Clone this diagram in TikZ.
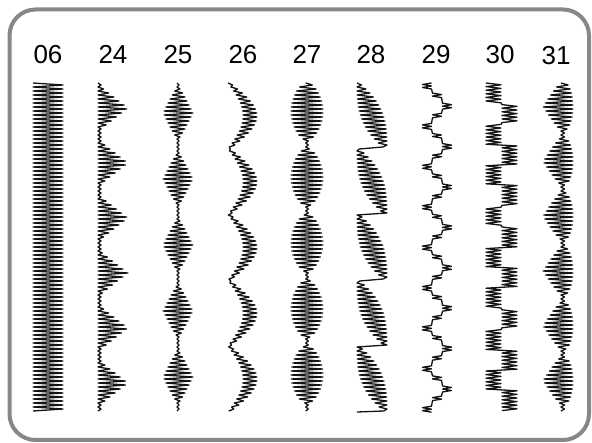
\documentclass[tikz,border=0pt]{standalone}
\usepackage{fontspec}
\setmainfont{Liberation Sans}
\begin{document}
\begin{tikzpicture}[x=1pt,y=-1pt,
  stitch/.style={line width=1.3pt, line join=round, color=black!92},
  border/.style={line width=4pt, color=black!47, rounded corners=26pt},
  lbl/.style={anchor=base, inner sep=0pt, font=\fontsize{26}{30}\selectfont},
  declare function={
    zz(\q,\xa,\xb)=\xa+mod(\q,2)*(\xb-\xa);
    dtri(\yy,\cc,\pp)=abs(mod(\yy-\cc+20.5*\pp,\pp)-0.5*\pp);
    w25(\yy)=28*pow(max(0.001,1-dtri(\yy,113,66)/25),0.85);
    s26(\yy)=sin(180*mod(\yy-83,65.8)/65.8);
    w27(\yy)=30*pow(max(0.001,sin(180*min(1,mod(\yy-83,65.8)/57))),0.55);
    t28(\yy)=mod(\yy-83,65.8)/65.8;
    side30(\yy)=mod(floor((\yy-83)/20.5),2);
    u31(\yy)=min(1,mod(\yy-83,54.83)/47);
  }]
\useasboundingbox (0,0) rectangle (592,443);
\draw[border] (9.5,9.5) rectangle (589,440);

% labels
\node[lbl] (l06) at (48,63.5) {06};
\node[lbl] (l24) at (113,63.5) {24};
\node[lbl] (l25) at (178,63.5) {25};
\node[lbl] (l26) at (243,63.5) {26};
\node[lbl] (l27) at (307,63.5) {27};
\node[lbl] (l28) at (371,63.5) {28};
\node[lbl] (l29) at (436,63.5) {29};
\node[lbl] (l30) at (500,63.5) {30};
\node[lbl] (l31) at (556,65) {31};

% 06 : plain satin
\draw[stitch] plot[variable=\q, samples at={0,...,164}]
  ({zz(\q,33,63)},{83+2*\q});

% 24 : triangles
\draw[stitch] plot[variable=\q, samples at={0,...,164}]
  ({zz(\q,98,101+27*max(0,1-dtri(83+2*\q,108,55)/21))},{83+2*\q});

% 25 : diamonds
\draw[stitch] plot[variable=\q, samples at={0,...,164}]
  ({zz(\q,177-0.5*w25(83+2*\q),179+0.5*w25(83+2*\q))},{83+2*\q});

% 26 : crescents
\draw[stitch] plot[variable=\q, samples at={0,...,164}]
  ({zz(\q,228+15*s26(83+2*\q),230+27*s26(83+2*\q))},{83+2*\q});

% 27 : ovals
\draw[stitch] plot[variable=\q, samples at={0,...,164}]
  ({zz(\q,306-0.5*w27(83+2*\q),308+0.5*w27(83+2*\q))},{83+2*\q});

% 28 : slanted satin with jump lines
\draw[stitch] plot[variable=\q, samples at={0,...,164}]
  ({zz(\q,357+28*pow(max(0.001,t28(83+2*\q)),3),359+28*(1-pow(max(0.001,1-t28(83+2*\q)),3)))},{83+2*\q})
  -- (357,412);

% 29 : zigzag made of small satin blocks (staircase)
\draw[stitch] (431.5,83)
  \foreach \jj in {0,4,...,28}{
    -- (431.5,{83+10.1*\jj}) -- (422.5,{84.5+10.1*\jj}) -- (431.5,{86+10.1*\jj}) -- (422.5,{87.5+10.1*\jj}) -- (431.5,{89+10.1*\jj})
    -- (432.5,{93.1+10.1*\jj}) -- (441.5,{94.6+10.1*\jj}) -- (432.5,{96.1+10.1*\jj}) -- (441.5,{97.6+10.1*\jj})
    -- (442.5,{103.2+10.1*\jj}) -- (451.5,{104.7+10.1*\jj}) -- (442.5,{106.2+10.1*\jj}) -- (451.5,{107.7+10.1*\jj}) -- (442.5,{109.2+10.1*\jj})
    -- (441.5,{113.3+10.1*\jj}) -- (432.5,{114.8+10.1*\jj}) -- (441.5,{116.3+10.1*\jj}) -- (432.5,{117.8+10.1*\jj})
  }
  -- (431.5,406.2) -- (422.5,407.7) -- (431.5,409.2) -- (422.5,410.7) -- (431.5,412.2);

% 30 : square wave blocks
\draw[stitch] plot[variable=\q, samples at={0,...,182}]
  ({zz(\q,486+16*side30(83+1.8*\q),501+16*side30(83+1.8*\q))},{83+1.8*\q});

% 31 : leaf lobes
\draw[stitch] plot[variable=\q, samples at={0,...,164}]
  ({zz(\q,561-18*pow(max(0.001,1-abs(2*u31(83+2*\q)-1)),0.8),564+9*pow(max(0.001,sin(180*u31(83+2*\q))),0.4))},{83+2*\q});
\end{tikzpicture}
\end{document}
